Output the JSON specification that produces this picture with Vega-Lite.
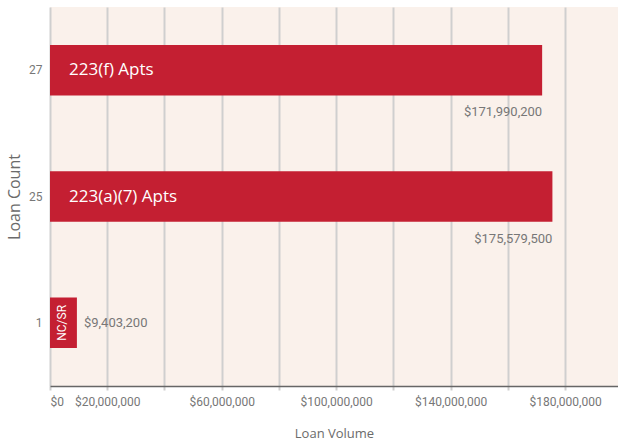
{
  "$schema": "https://vega.github.io/schema/vega-lite/v6.json",
  "width": 568,
  "height": 379,
  "autosize": "none",
  "padding": {"left": 50, "top": 7, "right": 0, "bottom": 61},
  "background": "white",
  "config": {
    "view": {"fill": "#FAF1EB", "stroke": null},
    "font": "Roboto"
  },
  "data": {
    "values": [
      {"count": "27", "program": "223(f) Apts", "volume": 171990200, "label": "$171,990,200"},
      {"count": "25", "program": "223(a)(7) Apts", "volume": 175579500, "label": "$175,579,500"},
      {"count": "1", "program": "NC/SR", "volume": 9403200, "label": "$9,403,200"}
    ]
  },
  "encoding": {
    "y": {
      "field": "count",
      "type": "nominal",
      "sort": ["27", "25", "1"],
      "scale": {"paddingInner": 0.6, "paddingOuter": 0.3},
      "axis": {
        "title": "Loan Count",
        "titleFont": "Open Sans",
        "titleFontSize": 16,
        "titleFontWeight": "normal",
        "titleColor": "#6b6b6b",
        "titlePadding": 6,
        "domain": false,
        "ticks": false,
        "labelPadding": 8,
        "labelFontSize": 12,
        "labelColor": "#777777",
        "labelAngle": 0
      }
    }
  },
  "layer": [
    {
      "mark": {"type": "bar", "color": "#C41F32"},
      "encoding": {
        "x": {
          "field": "volume",
          "type": "quantitative",
          "scale": {"domain": [0, 198500000], "nice": false},
          "axis": {
            "title": "Loan Volume",
            "titleFont": "Open Sans",
            "titleFontSize": 13,
            "titleFontWeight": "normal",
            "titleColor": "#6b6b6b",
            "titlePadding": 20,
            "values": [0, 20000000, 40000000, 60000000, 80000000, 100000000, 120000000, 140000000, 160000000, 180000000],
            "labelExpr": "indexof([0,20000000,60000000,100000000,140000000,180000000], datum.value) >= 0 ? '$' + format(datum.value, ',.0f') : ''",
            "labelFontSize": 12,
            "labelColor": "#777777",
            "labelPadding": 6,
            "labelOverlap": false,
            "grid": true,
            "gridColor": "#CFCFCF",
            "gridWidth": 2,
            "domainColor": "#666666",
            "domainWidth": 1.5,
            "tickColor": "#CFCFCF",
            "tickWidth": 2,
            "tickSize": 4
          }
        }
      }
    },
    {
      "transform": [{"filter": "datum.count != '1'"}],
      "mark": {"type": "text", "align": "left", "baseline": "middle", "dx": 19, "color": "white", "fontSize": 17, "font": "Open Sans"},
      "encoding": {
        "x": {"datum": 0, "type": "quantitative"},
        "text": {"field": "program"}
      }
    },
    {
      "transform": [{"filter": "datum.count == '1'"}],
      "mark": {"type": "text", "align": "center", "baseline": "middle", "angle": 270, "dy": 12, "color": "white", "fontSize": 12, "font": "Roboto"},
      "encoding": {
        "x": {"datum": 0, "type": "quantitative"},
        "text": {"field": "program"}
      }
    },
    {
      "transform": [{"filter": "datum.count != '1'"}],
      "mark": {"type": "text", "align": "right", "baseline": "middle", "dy": 42, "color": "#777777", "fontSize": 13},
      "encoding": {
        "x": {"field": "volume", "type": "quantitative"},
        "text": {"field": "label"}
      }
    },
    {
      "transform": [{"filter": "datum.count == '1'"}],
      "mark": {"type": "text", "align": "left", "baseline": "middle", "dx": 7, "color": "#777777", "fontSize": 13},
      "encoding": {
        "x": {"field": "volume", "type": "quantitative"},
        "text": {"field": "label"}
      }
    }
  ]
}
